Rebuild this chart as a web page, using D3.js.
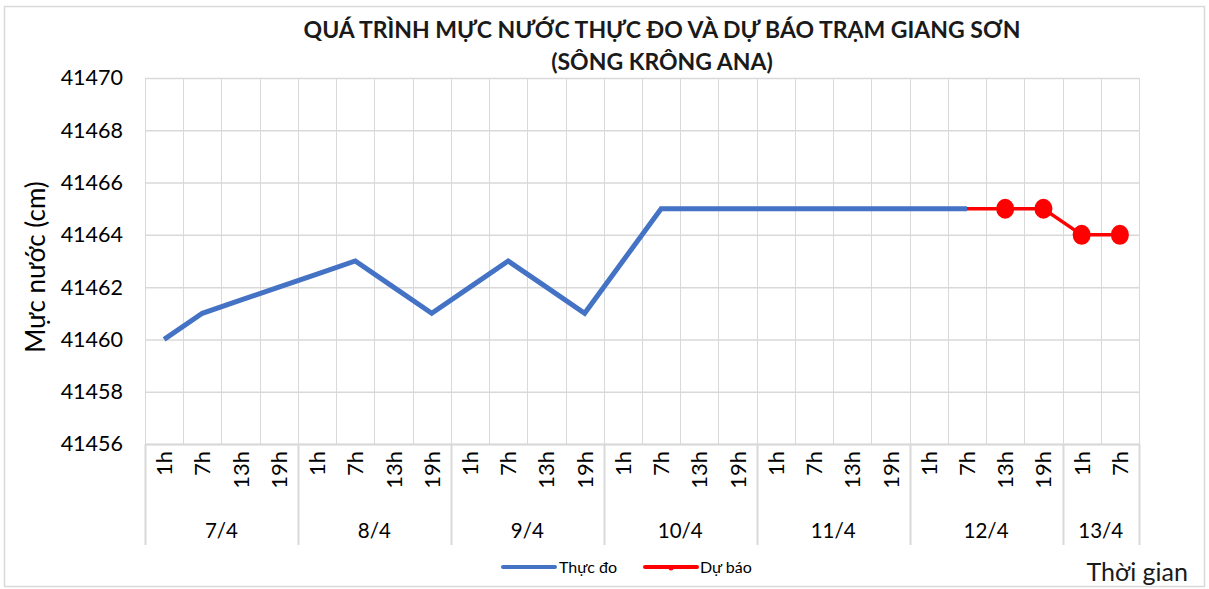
<!DOCTYPE html>
<html>
<head>
<meta charset="utf-8">
<script src="https://cdn.jsdelivr.net/npm/d3@7"></script>
<style>
  html, body { margin: 0; padding: 0; background: #fff; }
  svg { display: block; font-family: Lato, "Open Sans", sans-serif; }
</style>
</head>
<body>
<svg id="chart" width="1209" height="589"></svg>
<script>
var days = ["7/4", "8/4", "9/4", "10/4", "11/4", "12/4", "13/4"];
var hoursPerDay = [
  ["1h", "7h", "13h", "19h"],
  ["1h", "7h", "13h", "19h"],
  ["1h", "7h", "13h", "19h"],
  ["1h", "7h", "13h", "19h"],
  ["1h", "7h", "13h", "19h"],
  ["1h", "7h", "13h", "19h"],
  ["1h", "7h"]
];
// null = no value for that hour
var observed = [
  41460, 41461, 41461.5, 41462,
  41462.5, 41463, 41462, 41461,
  41462, 41463, 41462, 41461,
  41463, 41465, 41465, 41465,
  41465, 41465, 41465, 41465,
  41465, 41465, null, null,
  null, null
];
var forecast = [
  null, null, null, null,
  null, null, null, null,
  null, null, null, null,
  null, null, null, null,
  null, null, null, null,
  null, 41465, 41465, 41465,
  41464, 41464
];
// the first forecast point just joins the observed line, no marker
var forecastNoMarker = 21;
var yTicks = [41456, 41458, 41460, 41462, 41464, 41466, 41468, 41470];
var seriesNames = ["Thực đo", "Dự báo"];

(function () {
  "use strict";

  var svg = d3.select("#chart");
  var left = 145, right = 1139, top = 78, bottom = 444;
  var grid = "#d9d9d9";
  var text = "#000";

  // flatten day/hour pairs into one category list
  var cats = [];
  days.forEach(function (day, di) {
    hoursPerDay[di].forEach(function (h) {
      cats.push({ day: di, hour: h, index: cats.length });
    });
  });

  var x = d3.scaleBand().domain(d3.range(cats.length)).range([left, right]).padding(0);
  var y = d3.scaleLinear().domain([yTicks[0], yTicks[yTicks.length - 1]]).range([bottom, top]);
  function cx(i) { return x(i) + x.bandwidth() / 2; }

  // chart frame
  svg.append("rect")
    .attr("x", 4.5).attr("y", 6.5).attr("width", 1200).attr("height", 580)
    .attr("fill", "#fff").attr("stroke", grid).attr("stroke-width", 1.5);

  // title
  var title = svg.append("text")
    .attr("text-anchor", "middle")
    .attr("font-weight", "bold").attr("font-size", 23).attr("fill", "#1a1a1a");
  title.append("tspan").attr("x", 662).attr("y", 38)
    .text("QUÁ TRÌNH MỰC NƯỚC THỰC ĐO VÀ DỰ BÁO TRẠM GIANG SƠN");
  title.append("tspan").attr("x", 662).attr("y", 70)
    .text("(SÔNG KRÔNG ANA)");

  // vertical gridlines at every category boundary
  var bounds = d3.range(cats.length + 1).map(function (i) {
    return i < cats.length ? x(i) : right;
  });
  svg.append("g").selectAll("line").data(bounds).enter().append("line")
    .attr("x1", function (d) { return Math.round(d) + 0.5; })
    .attr("x2", function (d) { return Math.round(d) + 0.5; })
    .attr("y1", top).attr("y2", bottom)
    .attr("stroke", grid).attr("stroke-width", 1);

  // horizontal gridlines + y labels
  var yAxis = svg.append("g")
    .attr("transform", "translate(" + left + ",0)")
    .call(d3.axisLeft(y).tickValues(yTicks).tickSize(-(right - left)).tickPadding(22).tickFormat(d3.format("d")));
  yAxis.select(".domain").remove();
  yAxis.selectAll(".tick line").attr("stroke", grid).attr("stroke-width", 1.5);
  yAxis.selectAll(".tick text")
    .attr("font-family", "Lato, sans-serif").attr("font-size", 21.5).attr("fill", text);

  // axis line and day separators below it
  svg.append("line")
    .attr("x1", left).attr("x2", right).attr("y1", bottom + 0.5).attr("y2", bottom + 0.5)
    .attr("stroke", grid).attr("stroke-width", 2);

  var dayStart = [];
  cats.forEach(function (c) { if (c.hour === hoursPerDay[c.day][0]) dayStart.push(c.index); });
  var seps = dayStart.map(function (i) { return x(i); }).concat([right]);
  svg.append("g").selectAll("line").data(seps).enter().append("line")
    .attr("x1", function (d) { return Math.round(d) + 0.5; })
    .attr("x2", function (d) { return Math.round(d) + 0.5; })
    .attr("y1", bottom).attr("y2", 545)
    .attr("stroke", grid).attr("stroke-width", 2);

  // hour labels, rotated
  svg.append("g").selectAll("text").data(cats).enter().append("text")
    .attr("transform", function (d) { return "translate(" + (cx(d.index) + 8) + "," + (bottom + 7) + ") rotate(-90)"; })
    .attr("text-anchor", "end")
    .attr("font-size", 22).attr("fill", text)
    .text(function (d) { return d.hour; });

  // day labels
  svg.append("g").selectAll("text").data(days).enter().append("text")
    .attr("x", function (d, i) {
      var a = x(dayStart[i]);
      var b = i + 1 < days.length ? x(dayStart[i + 1]) : right;
      return (a + b) / 2;
    })
    .attr("y", 538).attr("text-anchor", "middle")
    .attr("font-size", 20.5).attr("fill", text)
    .text(function (d) { return d; });

  // y axis title
  svg.append("text")
    .attr("transform", "translate(45,267) rotate(-90)")
    .attr("text-anchor", "middle").attr("font-size", 26).attr("fill", text)
    .text("Mực nước (cm)");

  // x axis title
  svg.append("text")
    .attr("x", 1188).attr("y", 581).attr("text-anchor", "end")
    .attr("font-size", 25).attr("fill", "#1a1a1a")
    .text("Thời gian");

  var line = d3.line()
    .defined(function (d) { return d != null; })
    .x(function (d, i) { return cx(i); })
    .y(function (d) { return y(d); });

  svg.append("path").datum(observed)
    .attr("d", line).attr("fill", "none")
    .attr("stroke", "#4472c4").attr("stroke-width", 5)
    .attr("stroke-linejoin", "miter");

  svg.append("path").datum(forecast)
    .attr("d", line).attr("fill", "none")
    .attr("stroke", "#ff0000").attr("stroke-width", 3.5);

  var markers = forecast.map(function (v, i) { return { v: v, i: i }; })
    .filter(function (d) { return d.v != null && d.i !== forecastNoMarker; });
  svg.append("g").selectAll("ellipse").data(markers).enter().append("ellipse")
    .attr("cx", function (d) { return cx(d.i); })
    .attr("cy", function (d) { return y(d.v); })
    .attr("rx", 9).attr("ry", 10)
    .attr("fill", "#ff0000");

  // legend
  var legend = svg.append("g").attr("transform", "translate(0,567)");
  legend.append("line").attr("x1", 503).attr("x2", 555).attr("y1", 0).attr("y2", 0)
    .attr("stroke", "#4472c4").attr("stroke-width", 4).attr("stroke-linecap", "round");
  legend.append("text").attr("x", 559).attr("y", 6).attr("font-size", 16).attr("fill", text)
    .text(seriesNames[0]);
  legend.append("line").attr("x1", 645).attr("x2", 697).attr("y1", 0).attr("y2", 0)
    .attr("stroke", "#ff0000").attr("stroke-width", 4).attr("stroke-linecap", "round");
  legend.append("circle").attr("cx", 671).attr("cy", 1).attr("r", 2.5).attr("fill", "#ff0000");
  legend.append("text").attr("x", 700).attr("y", 6).attr("font-size", 16).attr("fill", text)
    .text(seriesNames[1]);
}());
</script>
</body>
</html>
